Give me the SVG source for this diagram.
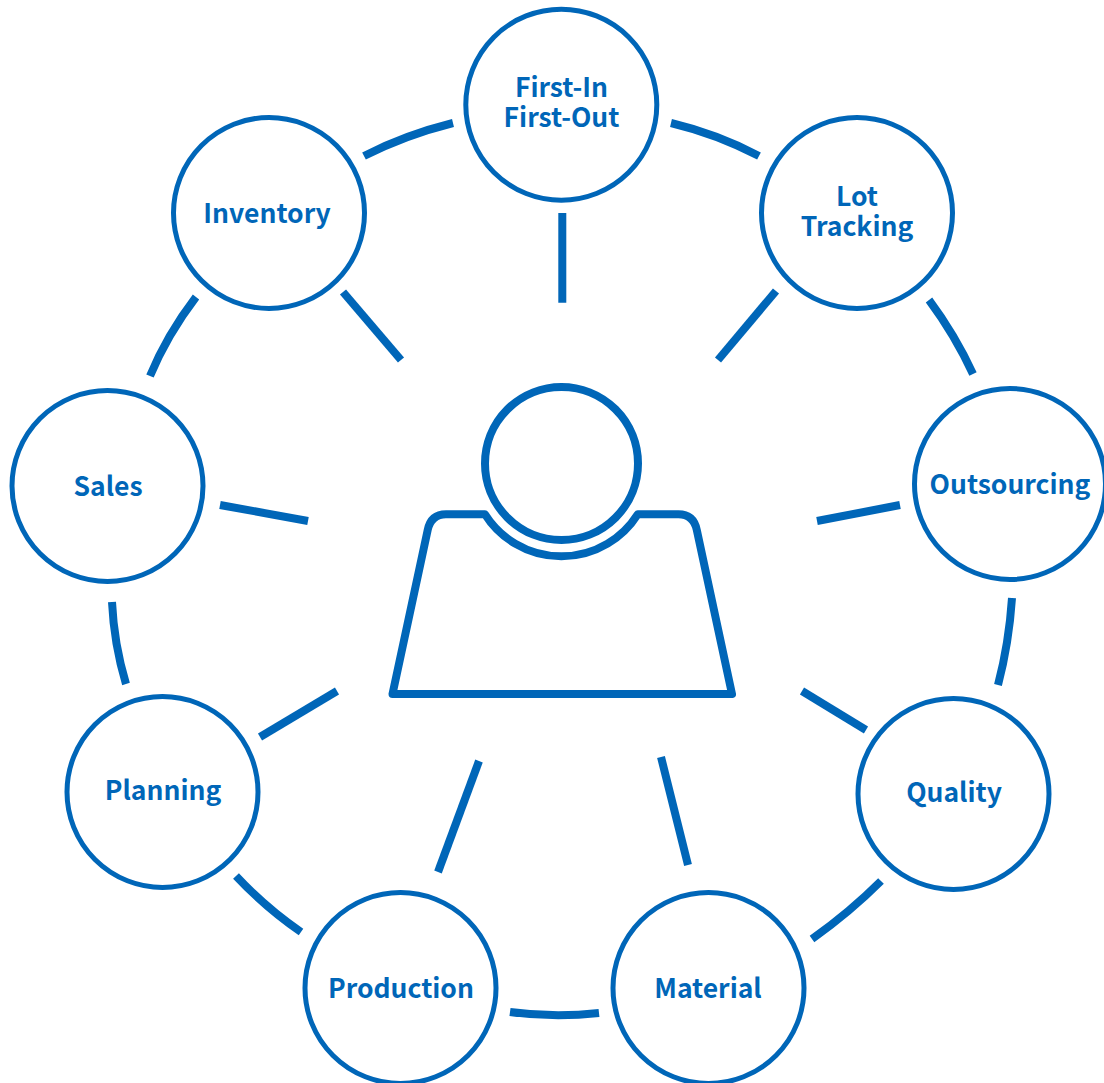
<svg xmlns="http://www.w3.org/2000/svg" width="1104" height="1083" viewBox="0 0 1104 1083">
<style>
.n{fill:#fff;stroke:#0066b8;stroke-width:5}
.t{font-family:"Noto Sans CJK KR","Noto Sans",sans-serif;font-weight:700;font-size:26.5px;fill:#0066b8;text-anchor:middle}
.c{fill:none;stroke:#0066b8;stroke-width:8}
</style>
<rect width="1104" height="1083" fill="#fff"/>
<g id="connectors">
<path class="c" d="M364 156Q405 135 453 123"/>
<path class="c" d="M671 123Q717 134 759 156"/>
<path class="c" d="M929 300Q955 335 973 374"/>
<path class="c" d="M1012 598Q1009 643 998 685"/>
<path class="c" d="M881 881Q850 912 812 939"/>
<path class="c" d="M599 1013Q554 1018 510 1012"/>
<path class="c" d="M301 932Q266 908 236 876"/>
<path class="c" d="M126 684Q114 644 112 602"/>
<path class="c" d="M150 376Q167 335 196 297"/>
<path class="c" d="M562.300 213V302.700"/>
<path class="c" d="M776 291L718 360"/>
<path class="c" d="M900 505L817 521"/>
<path class="c" d="M866 730L802 691"/>
<path class="c" d="M688 865L661 757"/>
<path class="c" d="M438 872L479 761"/>
<path class="c" d="M260 737L337 691"/>
<path class="c" d="M220 505L308 521"/>
<path class="c" d="M343 292L401 360"/>
</g>
<g id="person">
<circle cx="561.5" cy="463.5" r="76.5" fill="#fff" stroke="#0066b8" stroke-width="8"/>
<path d="M392.500 694L427.700 530Q431 514.300 446 514.300H485A90.400 90.400 0 0 0 637.700 514.300H678.500Q693.500 514.300 696.800 530L732 694Z" fill="none" stroke="#0066b8" stroke-width="8" stroke-linejoin="round"/>
</g>
<g id="n-fifo"><circle class="n" cx="561.300" cy="104.700" r="95.500"/><text class="t" x="561.500" y="97">First-In</text><text class="t" x="561.500" y="127">First-Out</text></g>
<g id="n-lot"><circle class="n" cx="857" cy="213" r="95.500"/><text class="t" x="857" y="206">Lot</text><text class="t" x="857" y="236">Tracking</text></g>
<g id="n-out"><circle class="n" cx="1010" cy="484" r="95.500"/><text class="t" x="1010" y="494">Outsourcing</text></g>
<g id="n-qual"><circle class="n" cx="953.500" cy="794" r="95.500"/><text class="t" x="954" y="802">Quality</text></g>
<g id="n-mat"><circle class="n" cx="708.500" cy="988" r="95.500"/><text class="t" x="708" y="998">Material</text></g>
<g id="n-prod"><circle class="n" cx="400.500" cy="988" r="95.500"/><text class="t" x="401" y="998">Production</text></g>
<g id="n-plan"><circle class="n" cx="162.500" cy="792" r="95.500"/><text class="t" x="163" y="800">Planning</text></g>
<g id="n-sales"><circle class="n" cx="107.500" cy="486" r="95.500"/><text class="t" x="108" y="496">Sales</text></g>
<g id="n-inv"><circle class="n" cx="269" cy="213" r="95.500"/><text class="t" x="267" y="223">Inventory</text></g>
</svg>
